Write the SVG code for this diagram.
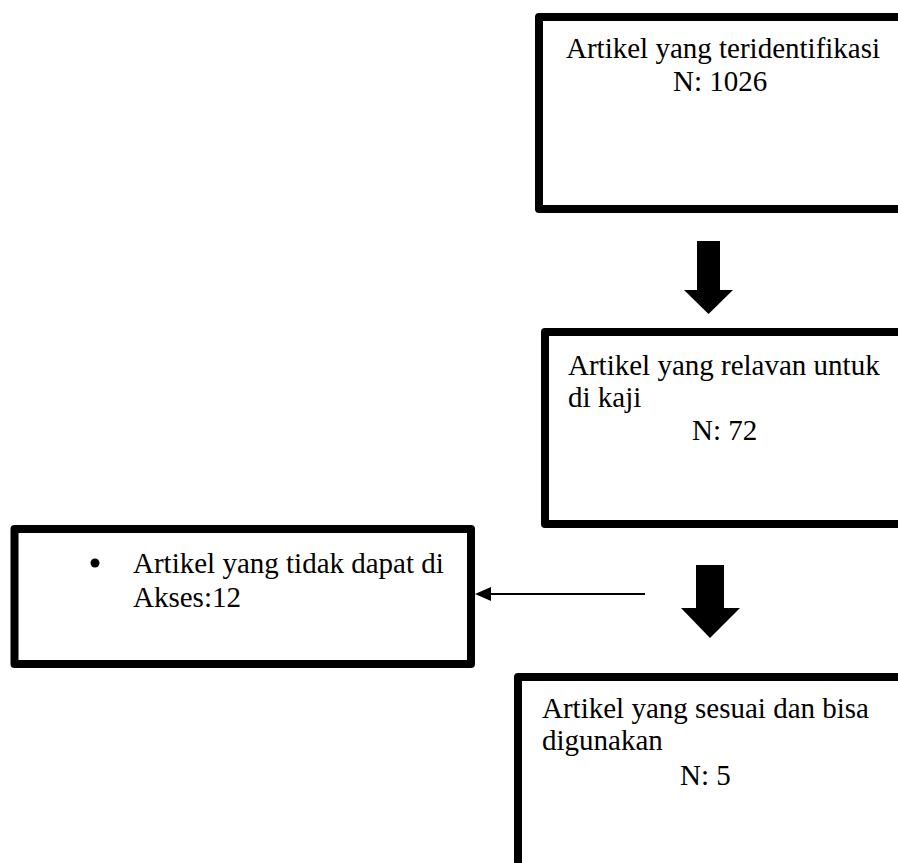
<svg xmlns="http://www.w3.org/2000/svg" width="898" height="863" viewBox="0 0 898 863">
<style>
.box{fill:#fff;stroke:#000;stroke-width:8;stroke-linejoin:round}
.t{font-family:"Liberation Serif","Times New Roman",serif;font-size:29px;fill:#000}
.bigarrow{fill:#000}
.thin{stroke:#000;stroke-width:2;fill:none}
</style>
<defs>
<marker id="ah" markerWidth="10" markerHeight="10" refX="1" refY="5" orient="auto" markerUnits="userSpaceOnUse" viewBox="0 0 10 10">
<path d="M0,5 L10,0 L10,10 Z" fill="#000" transform="scale(1)"/>
</marker>
</defs>
<rect width="898" height="863" fill="#fff"/>
<g id="node-identified">
<rect class="box" x="539" y="17" width="380" height="192"/>
<text class="t" x="566" y="58">Artikel yang teridentifikasi</text>
<text class="t" x="673" y="91">N: 1026</text>
</g>
<g id="node-relevant">
<rect class="box" x="545" y="332" width="380" height="192"/>
<text class="t" x="568" y="375">Artikel yang relavan untuk</text>
<text class="t" x="568" y="407">di kaji</text>
<text class="t" x="692" y="440">N: 72</text>
</g>
<g id="node-excluded">
<rect class="box" x="14.5" y="529" width="456.5" height="135"/>
<circle cx="95" cy="563" r="4.5" fill="#000"/>
<text class="t" x="133" y="573">Artikel yang tidak dapat di</text>
<text class="t" x="133" y="607">Akses:12</text>
</g>
<g id="node-final">
<rect class="box" x="518" y="677" width="400" height="220"/>
<text class="t" x="542" y="718">Artikel yang sesuai dan bisa</text>
<text class="t" x="542" y="750">digunakan</text>
<text class="t" x="680" y="785">N: 5</text>
</g>
<g id="connectors">
<path class="bigarrow" d="M697,241 L720,241 L720,290 L733,290 L708.5,314 L684,290 L697,290 Z"/>
<path class="bigarrow" d="M696,565 L724,565 L724,608 L740,608 L710,638 L681,608 L696,608 Z"/>
<path d="M491,594 L645,594" class="thin"/>
<path d="M475,594 L491,587 L491,601 Z" fill="#000"/>
</g>
</svg>
